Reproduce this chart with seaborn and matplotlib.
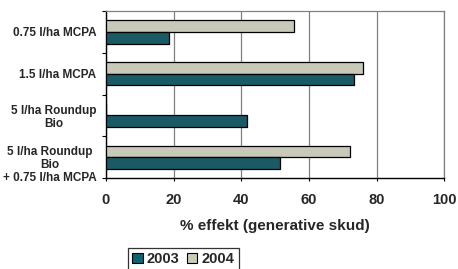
import pandas as pd
import matplotlib.pyplot as plt
import matplotlib.transforms as mtrans
import seaborn as sns
from matplotlib.patches import Patch

sns.set_style("white")
plt.rcParams['font.family'] = ['Liberation Sans', 'DejaVu Sans']
plt.rcParams['font.weight'] = 'bold'

# data
treatments = ['0.75 l/ha MCPA', '1.5 l/ha MCPA', '5 l/ha Roundup\nBio',
              '5 l/ha Roundup\nBio\n+ 0.75 l/ha MCPA']
effect_2003 = [18.7, 73.2, 41.6, 51.4]
effect_2004 = [55.6, 75.9, 0, 72.0]
years = ['2003', '2004']
colors = {'2003': '#0C6372', '2004': '#CCCCB6'}
xticks = [0, 20, 40, 60, 80, 100]

df = pd.DataFrame({
    'treatment': treatments * 2,
    'effect': effect_2003 + effect_2004,
    'year': ['2003'] * 4 + ['2004'] * 4,
})

fig = plt.figure(figsize=(4.58, 2.69), dpi=100)
ax = fig.add_axes([0.2314, 0.338, 0.7391, 0.621])

sns.barplot(data=df, y='treatment', x='effect', hue='year', orient='h',
            hue_order=['2004', '2003'], palette=colors, width=0.56,
            edgecolor='black', linewidth=0.9, ax=ax, legend=False,
            zorder=3)

ax.set_xlim(0, 100)
ax.set_ylim(3.5, -0.5)
ax.set_xticks(xticks)
ax.set_xticklabels([str(t) for t in xticks], fontsize=10.5, fontweight='bold')
ax.set_yticks(range(len(treatments)))
ax.set_yticklabels(treatments, fontsize=8.5, fontweight='bold',
                   multialignment='center', linespacing=1.1)
ax.tick_params(axis='y', which='major', length=0, pad=7)
ax.set_yticks([-0.5, 0.5, 1.5, 2.5, 3.5], minor=True)
ax.tick_params(axis='y', which='minor', length=3, width=0.8, color='black',
               left=True)
ax.tick_params(axis='x', length=2.5, width=0.8, color='black', bottom=True,
               pad=8)
ax.set_ylabel('')
ax.set_xlabel('% effekt (generative skud)', fontsize=11, fontweight='bold',
              labelpad=9)

# last label sits a bit lower in the original
last = ax.get_yticklabels()[-1]
last.set_transform(last.get_transform() +
                   mtrans.ScaledTranslation(0, -4 / 72, fig.dpi_scale_trans))

ax.grid(axis='x', color='#808080', linewidth=0.9, zorder=0)
ax.set_axisbelow(True)
for side in ['top', 'right']:
    ax.spines[side].set_color('#808080')
    ax.spines[side].set_linewidth(0.9)
for side in ['left', 'bottom']:
    ax.spines[side].set_color('black')
    ax.spines[side].set_linewidth(1.0)

handles = [Patch(facecolor=colors[y], edgecolor='black', linewidth=0.8)
           for y in years]
leg = fig.legend(handles, years, loc='upper left',
                 bbox_to_anchor=(128 / 458, 1 - 248 / 269),
                 ncol=2, frameon=True, fancybox=False,
                 prop={'weight': 'bold', 'size': 10.5},
                 handlelength=0.7, handleheight=0.7, handletextpad=0.3,
                 columnspacing=0.5, borderpad=0.3, borderaxespad=0)
leg.get_frame().set_edgecolor('black')
leg.get_frame().set_linewidth(0.9)

plt.savefig('out.png', dpi=100)
